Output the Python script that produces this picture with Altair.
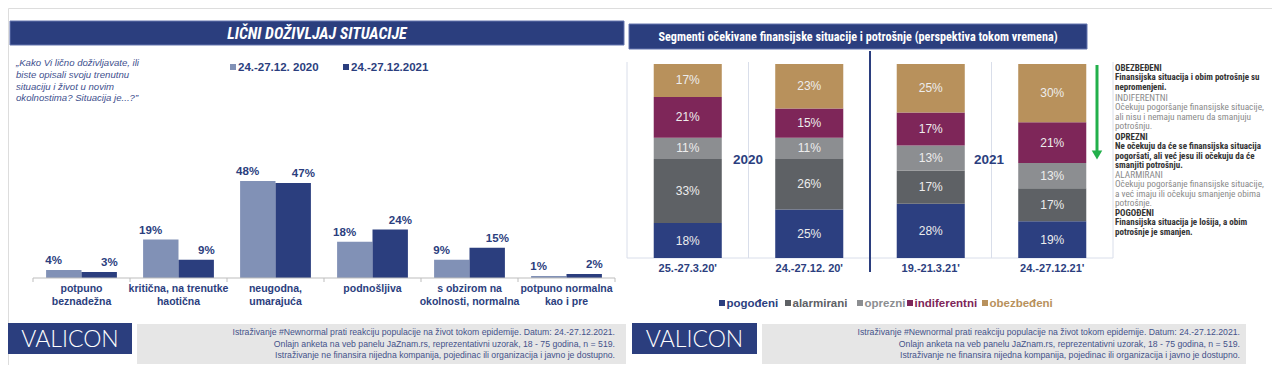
import altair as alt
import pandas as pd

# ---------------- data ----------------
categories = [
    "potpuno\nbeznadežna",
    "kritična, na trenutke\nhaotična",
    "neugodna,\numarajuća",
    "podnošljiva",
    "s obzirom na\nokolnosti, normalna",
    "potpuno normalna\nkao i pre",
]
periods = ["24.-27.12. 2020", "24.-27.12.2021"]
values_2020 = [4, 19, 48, 18, 9, 1]
values_2021 = [3, 9, 47, 24, 15, 2]

waves = ["25.-27.3.20'", "24.-27.12. 20'", "19.-21.3.21'", "24.-27.12.21'"]
segments = ["pogođeni", "alarmirani", "oprezni", "indiferentni", "obezbeđeni"]
pogodjeni = [18, 25, 28, 19]
alarmirani = [33, 26, 17, 17]
oprezni = [11, 11, 13, 13]
indiferentni = [21, 15, 17, 21]
obezbedjeni = [17, 23, 25, 30]
years = ["2020", "2021"]

left_title = "LIČNI DOŽIVLJAJ SITUACIJE"
right_title = "Segmenti očekivane finansijske situacije i potrošnje (perspektiva tokom vremena)"
question_lines = [
    "„Kako Vi lično doživljavate, ili",
    "biste opisali svoju trenutnu",
    "situaciju i život u novim",
    "okolnostima? Situacija je...?”",
]
footer_lines = [
    "Istraživanje #Newnormal prati reakciju populacije na život tokom epidemije. Datum: 24.-27.12.2021.",
    "Onlajn anketa na veb panelu JaZnam.rs, reprezentativni uzorak, 18 - 75 godina, n = 519.",
    "Istraživanje ne finansira nijedna kompanija, pojedinac ili organizacija i javno je dostupno.",
]
brand = "VALICON"
desc_headers = ["OBEZBEĐENI", "INDIFERENTNI", "OPREZNI", "ALARMIRANI", "POGOĐENI"]
desc_bodies = [
    ["Finansijska situacija i obim potrošnje su", "nepromenjeni."],
    ["Očekuju pogoršanje finansijske situacije,", "ali nisu i nemaju nameru da smanjuju", "potrošnju."],
    ["Ne očekuju da će se finansijska situacija", "pogoršati, ali već jesu ili očekuju da će", "smanjiti potrošnju."],
    ["Očekuju pogoršanje finansijske situacije,", "a već imaju ili očekuju smanjenje obima", "potrošnje."],
    ["Finansijska situacija je lošija, a obim", "potrošnje je smanjen."],
]
desc_emphasis = [True, False, True, False, True]

# ---------------- styles ----------------
NAVY = "#2B3E7E"
LIGHT = "#8191B6"
SEG_COLORS = ["#2C3F80", "#5E6165", "#8C8E91", "#7E2659", "#B8915C"]
SANS = "Liberation Sans, Arial, sans-serif"
NARROW = "Liberation Sans Narrow, Arial Narrow, Roboto Condensed, DejaVu Sans Condensed, Liberation Sans, sans-serif"
GRID = "#D9DEEA"

one = pd.DataFrame({"k": [0]})


def px(v):
    return v - 8


def rect(x0, y0, x1, y1, color, **kw):
    return alt.Chart(one).mark_rect(color=color, **kw).encode(
        x=alt.value(px(x0)), x2=alt.value(px(x1)), y=alt.value(px(y0)), y2=alt.value(px(y1))
    )


def rule(x0, y0, x1, y1, color, width=1):
    return alt.Chart(one).mark_rule(color=color, strokeWidth=width).encode(
        x=alt.value(px(x0)), x2=alt.value(px(x1)), y=alt.value(px(y0)), y2=alt.value(px(y1))
    )


def label(t, x, y, size=10, color="#000", align="left", baseline="middle",
          weight="normal", style="normal", font=SANS, **kw):
    return alt.Chart(one).mark_text(
        text=t, fontSize=size, color=color, align=align, baseline=baseline,
        fontWeight=weight, fontStyle=style, font=font, **kw
    ).encode(x=alt.value(px(x)), y=alt.value(px(y)))


layers = []

# ---------------- headers ----------------
layers.append(rect(10, 21, 624, 45, NAVY, stroke="#6475AE", strokeWidth=1))
layers.append(label(left_title, 317, 33.5, size=16, color="white", align="center",
                    weight="bold", style="italic", font=NARROW))
layers.append(rect(629, 24, 1087, 49, NAVY, stroke="#6475AE", strokeWidth=1))
layers.append(label(right_title, 858, 36.5, size=12.2, color="white", align="center",
                    weight="bold", font=NARROW))

# question text
layers.append(label(question_lines, 16, 58, size=9.6, color="#3E4F8E", style="italic",
                    font=SANS, lineHeight=11.8, baseline="top"))

# left legend
for i, (p, c) in enumerate(zip(periods, [LIGHT, NAVY])):
    sx = [230, 343][i]
    layers.append(rect(sx, 64, sx + 6, 70, c))
    layers.append(label(p, sx + 8, 67.5, size=11.5, color=NAVY, weight="bold"))

# ---------------- left grouped bars ----------------
left_df = pd.DataFrame({
    "cat": categories * 2,
    "period": [periods[0]] * len(categories) + [periods[1]] * len(categories),
    "value": values_2020 + values_2021,
})
cats_df = pd.DataFrame({"cat": categories})

xL_scale = alt.Scale(domain=categories, range=[px(33), px(615)], paddingInner=0, paddingOuter=0)
yL_scale = alt.Scale(domain=[0, 100], range=[px(278), px(278 - 202)])
xo_scale = alt.Scale(domain=periods, paddingInner=0, paddingOuter=0.37)

left_enc = dict(
    x=alt.X("cat:N", scale=xL_scale, axis=None),
    xOffset=alt.XOffset("period:N", scale=xo_scale),
    y=alt.Y("value:Q", scale=yL_scale, axis=None),
)
layers.append(alt.Chart(left_df).mark_bar().encode(
    color=alt.Color("period:N", scale=alt.Scale(domain=periods, range=[LIGHT, NAVY]), legend=None),
    **left_enc,
))
layers.append(alt.Chart(left_df).transform_calculate(lab="datum.value + '%'").mark_text(
    baseline="bottom", dy=-4, fontSize=11.5, fontWeight="bold", color=NAVY, font=SANS
).encode(text="lab:N", **left_enc))

# left axis line and ticks
layers.append(rule(33, 278, 615, 278, "#BDBDBD"))
layers.append(alt.Chart(cats_df).mark_rule(color="#BDBDBD").encode(
    x=alt.X("cat:N", scale=xL_scale, axis=None, bandPosition=0),
    y=alt.value(px(278)), y2=alt.value(px(282)),
))
layers.append(alt.Chart(cats_df).transform_filter(
    alt.datum.cat == categories[-1]
).mark_rule(color="#BDBDBD").encode(
    x=alt.X("cat:N", scale=xL_scale, axis=None, bandPosition=1),
    y=alt.value(px(278)), y2=alt.value(px(282)),
))
layers.append(alt.Chart(cats_df).mark_text(
    baseline="top", lineBreak="\n", lineHeight=13, fontSize=10.5, fontWeight="bold",
    color=NAVY, font=SANS, align="center"
).encode(
    x=alt.X("cat:N", scale=xL_scale, axis=None),
    y=alt.value(px(284)), text="cat:N",
))

# ---------------- right stacked bars ----------------
seg_values = [pogodjeni, alarmirani, oprezni, indiferentni, obezbedjeni]
rows = []
for si, s in enumerate(segments):
    for wi, w in enumerate(waves):
        rows.append({"wave": w, "seg": s, "k": si, "value": seg_values[si][wi]})
right_df = pd.DataFrame(rows)
waves_df = pd.DataFrame({"wave": waves, "i": list(range(len(waves)))})

xR_scale = alt.Scale(domain=waves, range=[px(627), px(1113)], paddingInner=0.44, paddingOuter=0.22)
xR_plain = alt.Scale(domain=waves, range=[px(627), px(1113)], paddingInner=0, paddingOuter=0)
yR_scale = alt.Scale(domain=[0, 100], range=[px(258), px(64)])

# separators / grid
layers.append(alt.Chart(waves_df).transform_filter("datum.i != 2").mark_rule(color=GRID).encode(
    x=alt.X("wave:N", scale=xR_plain, axis=None, bandPosition=0),
    y=alt.value(px(62)), y2=alt.value(px(258)),
))
layers.append(alt.Chart(waves_df).transform_filter("datum.i == 3").mark_rule(color=GRID).encode(
    x=alt.X("wave:N", scale=xR_plain, axis=None, bandPosition=1),
    y=alt.value(px(62)), y2=alt.value(px(258)),
))
layers.append(rule(627, 258, 1113, 258, GRID))
layers.append(alt.Chart(waves_df).transform_filter("datum.i == 2").mark_rule(color=NAVY, strokeWidth=2).encode(
    x=alt.X("wave:N", scale=xR_plain, axis=None, bandPosition=0),
    y=alt.value(px(51)), y2=alt.value(px(272)),
))

layers.append(alt.Chart(right_df).mark_bar().encode(
    x=alt.X("wave:N", scale=xR_scale, axis=None),
    y=alt.Y("value:Q", stack="zero", scale=yR_scale, axis=None),
    color=alt.Color("seg:N", scale=alt.Scale(domain=segments, range=SEG_COLORS), legend=None),
    order=alt.Order("k:Q", sort="ascending"),
))
layers.append(alt.Chart(right_df).transform_stack(
    stack="value", groupby=["wave"], sort=[alt.SortField("k", order="ascending")], as_=["y0", "y1"]
).transform_calculate(
    mid="(datum.y0 + datum.y1) / 2", lab="datum.value + '%'"
).mark_text(fontSize=12, color="#EDEDED", font=SANS).encode(
    x=alt.X("wave:N", scale=xR_scale, axis=None),
    y=alt.Y("mid:Q", scale=yR_scale, axis=None),
    text="lab:N",
))
layers.append(alt.Chart(waves_df).mark_text(
    fontSize=11, fontWeight="bold", color=NAVY, font=SANS
).encode(
    x=alt.X("wave:N", scale=xR_scale, axis=None),
    y=alt.value(px(269)), text="wave:N",
))

# year labels
layers.append(label(years[0], 748, 160, size=13.5, color=NAVY, align="center", weight="bold"))
layers.append(label(years[1], 989, 160, size=13.5, color=NAVY, align="center", weight="bold"))

# right legend
leg_x = [719, 785, 857, 907, 982]
for i, s in enumerate(segments):
    layers.append(rect(leg_x[i], 300, leg_x[i] + 6, 306, SEG_COLORS[i]))
    layers.append(label(s, leg_x[i] + 7.5, 303.5, size=11.5, color=SEG_COLORS[i], weight="bold"))

# green arrow
layers.append(rule(1097, 65, 1097, 152, "#22B04B", width=3))
layers.append(alt.Chart(one).mark_point(shape="triangle-down", filled=True, size=110,
                                        color="#22B04B", opacity=1).encode(
    x=alt.value(px(1097)), y=alt.value(px(155))))

# descriptions
head_y = [68, 98, 137, 175, 213]
for h, body, emph, hy in zip(desc_headers, desc_bodies, desc_emphasis, head_y):
    col = "#333333" if emph else "#8A8A8A"
    fs = 9.0 if emph else 9.3
    layers.append(label(h, 1115, hy, size=fs, color=col, font=NARROW,
                        weight="bold" if emph else "normal"))
    layers.append(label(body, 1115, hy + 5, size=fs, color=col, font=NARROW,
                        weight="bold" if emph else "normal", lineHeight=9.6, baseline="top"))

# ---------------- footers ----------------
for vx0, vx1, gx0, gx1, tx in [(8, 132, 137, 626, 615), (632, 757, 762, 1246, 1240)]:
    layers.append(rect(vx0, 323, vx1, 354, NAVY))
    layers.append(label(brand, (vx0 + vx1) / 2, 339.5, size=23, color="white",
                        align="center", font="Lato, Open Sans, sans-serif", weight=300))
    layers.append(rect(gx0, 324, gx1, 364, "#E6E6E6"))
    layers.append(label(footer_lines, tx, 328, size=8.7, color="#44528A",
                        align="right", font=SANS, lineHeight=11.5, baseline="top"))

chart = alt.layer(*layers).resolve_scale(
    x="independent", y="independent", color="independent", xOffset="independent"
).properties(
    width=1264, height=357, padding=0, autosize=alt.AutoSizeParams(type="none")
).configure_view(strokeWidth=0).configure(background="white")

chart.save("out.html", embed_options={"renderer": "svg", "actions": False})
